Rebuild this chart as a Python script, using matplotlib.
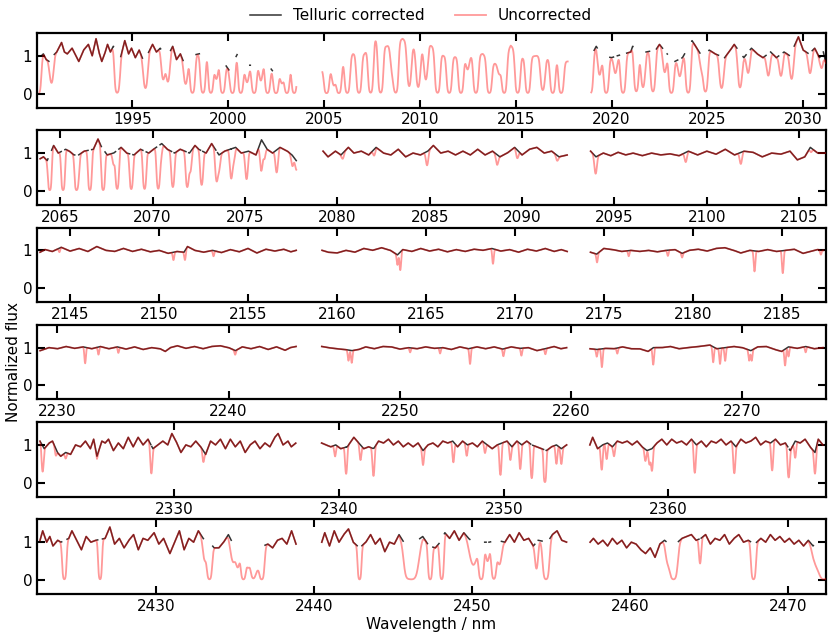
import matplotlib
matplotlib.use("Agg")
import matplotlib.pyplot as plt
import numpy as np
from matplotlib.ticker import MultipleLocator

# ---- panel 1 -------------------------------------------------------------
P1_XLIM = (1990.02, 2031.19)
P1_SEG = [(1990.15, 2003.56), (2004.91, 2017.72), (2018.94, 2031.19)]
P1_STAR = [
    (1990.15, 0.95), (1990.35, 1.05), (1990.5, 0.9), (1990.65, 0.85), (1990.85, 1.0), (1991.05, 1.1),
    (1991.3, 1.35), (1991.45, 1.1), (1991.6, 1.05), (1991.85, 1.2), (1992.05, 1.0), (1992.2, 0.85),
    (1992.45, 1.15), (1992.7, 1.3), (1992.9, 1.0), (1993.1, 1.45), (1993.25, 1.1), (1993.4, 0.85),
    (1993.55, 1.05), (1993.7, 1.3), (1993.85, 1.1), (1994.0, 1.25), (1994.2, 1.2), (1994.35, 0.9),
    (1994.6, 1.4), (1994.8, 1.05), (1994.95, 1.2), (1995.15, 0.95), (1995.35, 1.15), (1995.55, 0.9),
    (1995.8, 1.05), (1996.05, 1.3), (1996.25, 1.1), (1996.45, 1.2), (1996.7, 1.0), (1996.95, 1.1),
    (1997.1, 1.25), (1997.3, 0.9), (1997.5, 1.05), (1997.7, 0.8), (1998.0, 1.0), (1998.48, 1.05),
    (1998.82, 1.15), (1999.26, 0.95), (1999.52, 1.0), (2000.04, 0.62), (2000.48, 1.05), (2000.86, 0.75),
    (2001.18, 0.75), (2001.87, 0.9), (2002.31, 0.6), (2002.66, 0.65), (2003.27, 0.8), (2003.56, 0.8),
    (2004.91, 0.62), (2005.35, 0.65), (2005.63, 0.6), (2006.0, 0.85), (2006.5, 1.05), (2007.1, 1.05),
    (2007.66, 1.45), (2008.24, 1.25), (2009.1, 1.45), (2009.75, 1.2), (2010.0, 1.15), (2010.5, 1.3),
    (2011.23, 1.0), (2011.84, 0.97), (2012.3, 0.95), (2012.6, 1.0), (2013.28, 1.05), (2013.84, 0.8),
    (2014.2, 0.8), (2014.74, 1.27), (2015.37, 0.95), (2016.1, 1.0), (2016.62, 0.92), (2017.14, 0.9),
    (2017.58, 0.85), (2017.72, 0.85),
    (2018.94, 1.0), (2019.2, 1.25), (2019.5, 1.0), (2020.0, 0.95), (2020.3, 1.0), (2021.0, 1.1),
    (2021.1, 1.25), (2021.8, 1.1), (2022.3, 1.15), (2022.5, 1.3), (2022.9, 1.05), (2023.3, 0.85),
    (2023.7, 0.95), (2024.2, 1.4), (2024.45, 1.2), (2024.7, 1.0), (2025.1, 1.15), (2025.4, 1.05),
    (2025.9, 0.95), (2026.2, 1.15), (2026.4, 1.3), (2026.9, 0.95), (2027.3, 1.2), (2027.6, 1.05),
    (2027.9, 0.95), (2028.3, 1.1), (2028.6, 0.95), (2029.0, 1.1), (2029.3, 1.0), (2029.75, 1.5),
    (2030.0, 1.15), (2030.3, 1.05), (2030.6, 1.2), (2030.85, 0.95), (2031.05, 1.1), (2031.19, 0.8),
]
P1_TEL = [
    (1990.1, 1.0), (1990.78, 0.7), (1994.2, 1.0), (1995.68, 0.85), (1996.6, 0.65), (1996.85, 0.7),
    (1997.78, 0.7), (1998.13, 1.0), (1998.68, 1.0), (1999.09, 1.0), (1999.38, 0.6), (1999.70, 1.0),
    (2000.22, 1.0), (2000.65, 1.0), (2000.98, 0.6), (2001.35, 1.0), (2001.7, 0.6), (2002.05, 1.0),
    (2002.49, 1.0), (2002.8, 0.6), (2003.06, 1.0), (2003.44, 1.0),
    (2005.13, 1.0), (2005.51, 0.65), (2005.77, 1.0), (2006.21, 1.0), (2006.82, 1.0), (2007.43, 1.0),
    (2007.95, 1.0), (2008.56, 0.55), (2008.74, 1.0), (2009.44, 0.85), (2009.91, 0.85), (2010.31, 0.7),
    (2010.92, 1.0), (2011.53, 1.0), (2012.14, 1.0), (2012.49, 0.35), (2012.92, 1.0), (2013.62, 1.0),
    (2014.14, 0.35), (2014.4, 1.0), (2015.1, 1.0), (2015.63, 1.0), (2016.41, 0.9), (2016.93, 1.0),
    (2017.37, 1.0),
    (2018.9, 1.0), (2019.37, 0.55), (2019.72, 1.0), (2020.2, 0.45), (2020.6, 1.0), (2021.29, 0.95),
    (2021.64, 0.85), (2022.16, 0.95), (2022.77, 0.5), (2023.12, 1.0), (2023.56, 0.5), (2024.0, 1.0),
    (2024.69, 0.35), (2024.9, 0.95), (2025.74, 0.85), (2026.7, 0.85), (2027.13, 0.5), (2028.18, 0.55),
    (2028.84, 0.55), (2029.4, 0.65), (2030.36, 0.5), (2030.97, 0.35),
]

# ---- panel 2 -------------------------------------------------------------
P2_XLIM = (2063.75, 2106.45)
P2_SEG = [(2063.92, 2077.78), (2079.23, 2092.45), (2093.71, 2106.45)]
P2_STAR = [
    (2063.92, 0.85), (2064.1, 0.9), (2064.3, 0.8), (2064.65, 1.2), (2064.9, 1.0), (2065.3, 1.1),
    (2065.5, 1.05), (2065.75, 0.95), (2066.0, 0.95), (2066.3, 1.05), (2066.8, 1.1), (2067.05, 1.37),
    (2067.25, 1.15), (2067.55, 0.95), (2067.9, 1.0), (2068.3, 1.15), (2068.6, 1.0), (2069.0, 0.95),
    (2069.35, 1.1), (2069.8, 1.0), (2070.05, 1.1), (2070.5, 1.25), (2070.8, 1.1), (2071.2, 1.0),
    (2071.5, 1.1), (2072.0, 1.0), (2072.3, 1.2), (2072.5, 1.1), (2072.9, 1.0), (2073.2, 1.25),
    (2073.6, 0.95), (2073.9, 1.05), (2074.5, 1.15), (2074.8, 1.0), (2075.2, 1.05), (2075.6, 0.95),
    (2075.9, 1.35), (2076.2, 1.1), (2076.5, 1.0), (2076.9, 1.15), (2077.3, 1.05), (2077.55, 0.95),
    (2077.78, 0.8),
    (2079.23, 1.05), (2079.5, 0.9), (2079.9, 1.05), (2080.2, 0.95), (2080.6, 1.15), (2080.9, 1.0),
    (2081.3, 1.05), (2081.7, 0.95), (2082.1, 1.15), (2082.5, 1.0), (2082.9, 0.95), (2083.3, 1.1),
    (2083.7, 0.9), (2084.1, 1.0), (2084.5, 0.95), (2084.9, 1.05), (2085.2, 1.2), (2085.6, 1.0),
    (2086.0, 1.05), (2086.4, 0.95), (2086.8, 1.05), (2087.2, 0.95), (2087.6, 1.1), (2088.0, 0.95),
    (2088.4, 1.05), (2088.8, 0.9), (2089.2, 1.0), (2089.6, 1.15), (2090.0, 0.95), (2090.4, 1.1),
    (2090.8, 1.15), (2091.2, 1.0), (2091.6, 1.05), (2092.0, 0.9), (2092.45, 0.95),
    (2093.71, 1.05), (2094.0, 0.9), (2094.4, 1.0), (2094.8, 0.93), (2095.2, 1.02), (2095.6, 0.95),
    (2096.0, 1.0), (2096.5, 0.93), (2097.0, 1.0), (2097.5, 0.95), (2098.0, 0.98), (2098.5, 0.93),
    (2099.0, 1.05), (2099.5, 0.95), (2100.0, 1.05), (2100.5, 0.97), (2101.0, 1.1), (2101.5, 0.95),
    (2102.0, 1.05), (2102.5, 1.02), (2103.0, 0.9), (2103.5, 1.0), (2104.0, 0.97), (2104.5, 1.05),
    (2104.9, 0.82), (2105.3, 0.9), (2105.6, 1.15), (2106.0, 1.0), (2106.45, 1.0),
]
P2_TEL = [
    (2064.44, 1.0), (2065.16, 1.0), (2065.88, 0.97), (2065.97, 0.6), (2066.61, 1.0), (2067.33, 1.0),
    (2067.9, 0.3), (2068.09, 0.95), (2068.85, 0.95), (2069.57, 0.95), (2070.31, 0.95), (2070.45, 0.3),
    (2071.1, 0.9), (2071.88, 0.9), (2072.05, 0.5), (2072.66, 0.85), (2073.47, 0.75), (2073.6, 0.4),
    (2074.26, 0.7), (2074.4, 0.3), (2075.09, 0.7), (2075.89, 0.6), (2076.05, 0.3), (2076.72, 0.55),
    (2077.57, 0.3), (2077.78, 0.3),
    (2080.3, 0.15), (2082.0, 0.15), (2084.86, 0.35), (2088.65, 0.28), (2089.74, 0.2), (2091.9, 0.15),
    (2093.98, 0.5), (2098.86, 0.25), (2101.84, 0.3), (2105.63, 0.1),
]

# ---- panel 3 -------------------------------------------------------------
P3_XLIM = (2143.14, 2187.49)
P3_SEG = [(2143.31, 2157.71), (2159.16, 2172.94), (2174.25, 2187.35)]
P3_STAR = [
    (2143.31, 0.95), (2143.6, 1.02), (2144.0, 0.97), (2144.5, 1.08), (2145.0, 0.98), (2145.5, 1.05),
    (2146.0, 0.97), (2146.5, 1.1), (2147.0, 1.0), (2147.5, 0.97), (2148.0, 1.05), (2148.5, 0.97),
    (2149.0, 1.03), (2149.5, 0.96), (2150.0, 1.0), (2150.5, 0.92), (2151.0, 0.97), (2151.4, 0.95),
    (2151.6, 1.1), (2152.0, 1.0), (2152.5, 0.95), (2153.0, 1.0), (2153.5, 0.94), (2154.0, 1.02),
    (2154.5, 0.96), (2155.0, 1.05), (2155.5, 0.93), (2156.0, 1.03), (2156.5, 0.98), (2157.0, 1.03),
    (2157.4, 0.96), (2157.71, 1.0),
    (2159.16, 1.0), (2159.5, 0.95), (2160.0, 0.93), (2160.5, 1.0), (2161.0, 0.95), (2161.5, 1.05),
    (2162.0, 1.0), (2162.5, 1.07), (2163.0, 1.0), (2163.4, 0.88), (2163.7, 1.02), (2164.2, 0.97),
    (2164.7, 1.05), (2165.2, 0.98), (2165.7, 1.03), (2166.2, 0.96), (2166.7, 1.02), (2167.2, 0.97),
    (2167.7, 1.03), (2168.2, 1.0), (2168.7, 1.05), (2169.2, 0.98), (2169.7, 1.02), (2170.2, 0.95),
    (2170.7, 1.03), (2171.2, 0.98), (2171.7, 1.05), (2172.2, 0.97), (2172.6, 1.02), (2172.94, 0.97),
    (2174.25, 0.95), (2174.6, 0.9), (2175.0, 1.05), (2175.5, 1.02), (2176.0, 0.97), (2176.5, 1.0),
    (2177.0, 0.97), (2177.5, 1.0), (2178.0, 0.96), (2178.5, 1.0), (2179.0, 1.02), (2179.4, 0.92),
    (2179.8, 1.0), (2180.3, 1.03), (2180.8, 0.98), (2181.3, 1.05), (2181.8, 1.07), (2182.3, 1.0),
    (2182.7, 0.93), (2183.2, 1.0), (2183.7, 0.97), (2184.2, 1.02), (2184.7, 0.97), (2185.2, 1.0),
    (2185.7, 1.03), (2186.2, 0.92), (2186.6, 0.97), (2187.0, 1.02), (2187.35, 1.0),
]
P3_TEL = [
    (2144.4, 0.1), (2150.81, 0.22), (2151.46, 0.25), (2153.06, 0.15), (2163.4, 0.3), (2163.56, 0.5),
    (2168.77, 0.38), (2174.62, 0.25), (2176.4, 0.15), (2178.6, 0.15), (2179.4, 0.12), (2183.47, 0.55),
    (2185.06, 0.6), (2187.2, 0.12),
]

# ---- panel 4 -------------------------------------------------------------
P4_XLIM = (2228.81, 2274.89)
P4_SEG = [(2228.99, 2243.94), (2245.44, 2259.75), (2261.11, 2274.72)]
P4_STAR = [
    (2229.0, 0.92), (2229.5, 1.0), (2230.0, 0.97), (2230.5, 1.03), (2231.0, 0.98), (2231.5, 1.02),
    (2232.0, 0.97), (2232.5, 1.03), (2233.0, 0.97), (2233.5, 1.02), (2234.0, 0.96), (2234.5, 1.02),
    (2235.0, 0.95), (2235.5, 1.0), (2236.0, 0.97), (2236.3, 0.9), (2236.6, 1.0), (2237.0, 1.05),
    (2237.5, 0.98), (2238.0, 1.03), (2238.5, 0.97), (2239.0, 1.03), (2239.5, 1.05), (2240.0, 1.0),
    (2240.4, 0.92), (2240.8, 1.02), (2241.3, 0.97), (2241.8, 1.03), (2242.3, 0.95), (2242.8, 1.02),
    (2243.3, 0.93), (2243.6, 1.0), (2243.94, 1.03),
    (2245.44, 1.03), (2245.8, 1.0), (2246.3, 0.97), (2246.8, 0.95), (2247.2, 0.92), (2247.6, 0.95),
    (2248.0, 1.02), (2248.5, 0.97), (2249.0, 1.03), (2249.5, 1.02), (2250.0, 0.96), (2250.5, 1.0),
    (2251.0, 0.97), (2251.5, 1.02), (2252.0, 0.98), (2252.5, 1.0), (2253.0, 0.95), (2253.5, 1.02),
    (2254.0, 0.97), (2254.5, 1.02), (2255.0, 0.97), (2255.5, 1.02), (2256.0, 0.96), (2256.5, 1.02),
    (2257.0, 0.98), (2257.5, 1.0), (2258.0, 0.92), (2258.5, 0.97), (2259.0, 1.03), (2259.4, 0.97),
    (2259.75, 1.0),
    (2261.11, 0.97), (2261.5, 0.95), (2262.0, 0.98), (2262.5, 0.97), (2263.0, 1.02), (2263.5, 0.97),
    (2264.0, 0.97), (2264.5, 0.9), (2264.8, 1.0), (2265.3, 1.0), (2265.8, 1.03), (2266.3, 0.97),
    (2266.8, 1.0), (2267.3, 1.02), (2267.8, 1.05), (2268.1, 1.07), (2268.5, 0.97), (2269.0, 1.0),
    (2269.5, 1.03), (2270.0, 1.0), (2270.5, 0.92), (2270.9, 1.02), (2271.4, 1.03), (2271.9, 0.95),
    (2272.3, 0.9), (2272.7, 1.02), (2273.2, 0.98), (2273.7, 1.03), (2274.2, 0.97), (2274.72, 1.0),
]
P4_TEL = [
    (2231.62, 0.42), (2232.4, 0.2), (2233.56, 0.15), (2240.38, 0.12), (2247.0, 0.3), (2247.19, 0.35),
    (2250.6, 0.12), (2252.35, 0.15), (2254.1, 0.42), (2256.05, 0.2), (2257.1, 0.2), (2258.5, 0.15),
    (2261.5, 0.2), (2261.8, 0.5), (2262.7, 0.15), (2264.8, 0.45), (2268.3, 0.4), (2268.7, 0.42),
    (2269.0, 0.35), (2270.4, 0.3), (2270.55, 0.3), (2272.5, 0.45), (2272.7, 0.25), (2273.7, 0.15),
]

# ---- panel 5 -------------------------------------------------------------
P5_XLIM = (2321.66, 2369.57)
P5_SEG = [(2321.84, 2337.38), (2338.94, 2353.82), (2355.23, 2369.38)]
P5_STAR = [
    (2321.84, 1.1), (2322.1, 0.9), (2322.4, 1.05), (2322.6, 1.1), (2322.9, 0.8), (2323.1, 0.7),
    (2323.4, 0.8), (2323.7, 0.75), (2324.0, 1.0), (2324.3, 0.95), (2324.6, 1.1), (2324.9, 0.9),
    (2325.1, 1.15), (2325.3, 0.7), (2325.6, 1.1), (2325.8, 1.05), (2326.0, 1.15), (2326.3, 0.85),
    (2326.6, 1.05), (2326.9, 0.9), (2327.2, 1.2), (2327.5, 0.95), (2327.8, 1.2), (2328.1, 1.0),
    (2328.4, 1.15), (2328.7, 0.9), (2329.0, 1.0), (2329.3, 1.1), (2329.6, 1.0), (2329.85, 1.3),
    (2330.1, 1.1), (2330.4, 0.8), (2330.7, 1.0), (2331.0, 0.95), (2331.3, 1.1), (2331.6, 0.95),
    (2331.9, 0.75), (2332.2, 1.1), (2332.5, 1.0), (2332.8, 1.15), (2333.1, 0.9), (2333.4, 1.15),
    (2333.7, 0.95), (2334.0, 1.1), (2334.3, 0.8), (2334.6, 1.0), (2334.9, 1.1), (2335.2, 0.9),
    (2335.5, 1.05), (2335.8, 0.95), (2336.1, 1.2), (2336.3, 1.3), (2336.6, 1.0), (2336.9, 1.1),
    (2337.1, 0.95), (2337.38, 1.05),
    (2338.94, 1.05), (2339.2, 1.0), (2339.5, 0.95), (2339.8, 1.0), (2340.1, 0.9), (2340.5, 0.95),
    (2340.9, 1.2), (2341.2, 1.05), (2341.5, 0.9), (2341.8, 0.95), (2342.1, 0.9), (2342.4, 1.1),
    (2342.7, 1.05), (2343.0, 1.15), (2343.3, 1.0), (2343.6, 1.1), (2343.9, 0.95), (2344.2, 1.05),
    (2344.5, 0.95), (2344.8, 1.05), (2345.1, 0.85), (2345.4, 1.0), (2345.7, 1.05), (2346.0, 0.95),
    (2346.3, 1.1), (2346.6, 1.05), (2346.9, 1.1), (2347.2, 0.95), (2347.5, 1.1), (2347.8, 1.0),
    (2348.1, 1.05), (2348.4, 0.95), (2348.7, 1.1), (2349.0, 1.0), (2349.3, 0.9), (2349.6, 1.0),
    (2349.9, 1.05), (2350.2, 1.1), (2350.5, 0.95), (2350.8, 1.1), (2351.1, 1.0), (2351.4, 1.1),
    (2351.7, 1.0), (2352.0, 0.95), (2352.3, 0.9), (2352.6, 0.85), (2352.9, 0.95), (2353.2, 1.0),
    (2353.5, 0.9), (2353.82, 1.0),
    (2355.23, 1.0), (2355.4, 1.2), (2355.7, 0.9), (2356.0, 1.0), (2356.3, 1.05), (2356.6, 0.95),
    (2356.9, 1.1), (2357.2, 1.05), (2357.5, 1.1), (2357.8, 1.0), (2358.1, 1.1), (2358.4, 0.95),
    (2358.7, 0.85), (2359.0, 0.9), (2359.3, 1.05), (2359.6, 1.15), (2359.9, 1.0), (2360.2, 1.15),
    (2360.5, 1.05), (2360.8, 1.1), (2361.1, 1.0), (2361.4, 1.15), (2361.7, 1.0), (2362.0, 1.1),
    (2362.3, 0.95), (2362.6, 1.1), (2362.9, 1.05), (2363.2, 1.15), (2363.5, 1.0), (2363.8, 1.1),
    (2364.1, 0.95), (2364.4, 1.15), (2364.7, 1.05), (2365.0, 1.1), (2365.3, 1.2), (2365.6, 1.0),
    (2365.9, 1.1), (2366.2, 1.05), (2366.5, 1.15), (2366.8, 1.0), (2367.1, 1.05), (2367.4, 0.85),
    (2367.7, 1.1), (2368.0, 1.05), (2368.3, 1.15), (2368.6, 0.95), (2368.9, 0.8), (2369.1, 1.15),
    (2369.38, 1.0),
]
P5_TEL = [
    (2322.0, 0.7), (2322.8, 0.2), (2323.4, 0.2), (2325.3, 0.1), (2328.6, 0.75), (2331.76, 0.35),
    (2339.76, 0.3), (2340.43, 0.75), (2341.3, 0.4), (2342.09, 0.8), (2345.1, 0.45), (2346.94, 0.5),
    (2347.75, 0.3), (2348.86, 0.25), (2349.8, 0.8), (2350.4, 0.4), (2351.0, 0.65), (2351.7, 0.88),
    (2352.5, 1.0), (2353.2, 0.5), (2353.5, 0.45), (2355.95, 0.65), (2356.25, 0.4), (2356.7, 0.3),
    (2358.6, 0.35), (2358.85, 0.45), (2359.0, 0.65), (2361.6, 0.75), (2364.0, 0.75), (2366.3, 0.7),
    (2367.3, 0.85), (2367.7, 0.4), (2368.9, 0.7),
]

# ---- panel 6 -------------------------------------------------------------
P6_XLIM = (2422.49, 2472.42)
P6_SEG = [(2422.68, 2438.88), (2440.51, 2456.01), (2457.49, 2472.42)]
P6_STAR = [
    (2422.68, 1.05), (2422.85, 1.3), (2423.1, 1.0), (2423.3, 1.15), (2423.5, 0.9), (2423.8, 1.05),
    (2424.0, 1.0), (2424.5, 1.1), (2424.7, 1.3), (2425.0, 1.05), (2425.3, 0.8), (2425.6, 1.15),
    (2425.9, 1.0), (2426.2, 1.05), (2426.8, 1.1), (2427.1, 1.4), (2427.4, 0.95), (2427.7, 1.1),
    (2428.0, 0.85), (2428.3, 1.05), (2428.6, 1.2), (2428.9, 0.8), (2429.2, 1.1), (2429.5, 1.05),
    (2429.9, 1.25), (2430.2, 0.95), (2430.5, 1.1), (2430.9, 0.7), (2431.2, 1.0), (2431.5, 1.3),
    (2431.8, 0.8), (2432.1, 1.1), (2432.4, 1.0), (2432.7, 1.3), (2433.0, 1.1), (2433.4, 1.0),
    (2433.7, 0.85), (2434.0, 0.85), (2434.3, 1.0), (2434.6, 1.2), (2434.9, 0.95), (2435.5, 0.9),
    (2436.2, 0.9), (2436.8, 0.9), (2437.1, 0.95), (2437.4, 0.85), (2437.7, 1.05), (2438.0, 1.1),
    (2438.3, 0.95), (2438.6, 1.3), (2438.88, 0.95),
    (2440.51, 1.0), (2440.7, 1.25), (2441.0, 0.9), (2441.3, 1.3), (2441.6, 1.0), (2441.9, 1.2),
    (2442.2, 1.35), (2442.5, 1.0), (2442.9, 0.85), (2443.3, 1.0), (2443.6, 1.2), (2443.9, 0.95),
    (2444.2, 1.1), (2444.5, 0.75), (2444.8, 1.0), (2445.1, 0.95), (2445.4, 1.2), (2445.7, 1.0),
    (2446.0, 0.9), (2446.4, 1.0), (2446.9, 1.15), (2447.3, 0.9), (2447.7, 0.85), (2448.0, 1.0),
    (2448.3, 1.25), (2448.6, 1.1), (2448.9, 1.3), (2449.2, 1.05), (2449.5, 1.25), (2449.8, 1.1),
    (2450.1, 1.0), (2450.6, 1.0), (2451.1, 1.0), (2451.6, 1.05), (2452.1, 1.0), (2452.4, 1.2),
    (2452.7, 1.0), (2453.0, 1.25), (2453.3, 1.05), (2453.6, 1.1), (2453.9, 0.9), (2454.2, 1.05),
    (2454.8, 1.0), (2455.1, 1.2), (2455.4, 1.3), (2455.7, 1.05), (2456.01, 1.0),
    (2457.49, 1.0), (2457.7, 1.1), (2458.0, 0.95), (2458.3, 1.05), (2458.6, 0.9), (2458.9, 1.1),
    (2459.2, 0.95), (2459.5, 1.05), (2459.8, 0.85), (2460.1, 1.0), (2460.4, 0.95), (2460.7, 0.8),
    (2461.0, 0.7), (2461.3, 0.85), (2461.6, 0.6), (2461.9, 0.95), (2462.2, 1.05), (2462.5, 0.95),
    (2462.9, 0.95), (2463.3, 1.1), (2463.6, 1.15), (2463.9, 1.2), (2464.2, 1.05), (2464.5, 1.1),
    (2464.8, 1.2), (2465.1, 0.95), (2465.4, 1.1), (2465.7, 1.05), (2466.0, 1.2), (2466.3, 0.95),
    (2466.6, 1.1), (2466.9, 1.2), (2467.2, 1.0), (2467.5, 1.05), (2467.9, 0.95), (2468.3, 1.1),
    (2468.6, 1.0), (2468.9, 1.2), (2469.2, 1.05), (2469.5, 1.15), (2469.8, 1.0), (2470.1, 1.1),
    (2470.4, 0.95), (2470.7, 1.05), (2471.0, 0.9), (2471.3, 1.05), (2471.6, 0.9), (2471.9, 1.05),
    (2472.42, 1.0),
]
# (centre, depth, width in nm)
P6_TEL = [
    (2424.22, 1.0, 0.08), (2426.48, 1.0, 0.07), (2433.1, 0.5, 0.1), (2433.4, 1.0, 0.1),
    (2434.9, 0.5, 0.15), (2435.2, 0.6, 0.1), (2435.55, 1.0, 0.1), (2435.85, 0.6, 0.1),
    (2436.18, 0.95, 0.12), (2436.45, 0.6, 0.1), (2436.71, 1.0, 0.1),
    (2442.9, 1.0, 0.07), (2445.9, 0.6, 0.12), (2446.2, 1.0, 0.25), (2447.37, 1.0, 0.08),
    (2448.1, 1.0, 0.08), (2450.1, 0.6, 0.2), (2450.6, 1.0, 0.1), (2451.0, 0.5, 0.1),
    (2451.4, 0.97, 0.1), (2451.75, 0.6, 0.12), (2454.1, 0.7, 0.08), (2454.7, 1.0, 0.12),
    (2462.4, 0.5, 0.12), (2462.77, 1.0, 0.15), (2464.45, 0.6, 0.06), (2467.83, 1.0, 0.09),
    (2471.85, 0.6, 0.2), (2472.3, 1.0, 0.2),
]

PANELS = [
    (P1_XLIM, P1_SEG, P1_STAR, P1_TEL, 0.08, 0.75, 5),
    (P2_XLIM, P2_SEG, P2_STAR, P2_TEL, 0.06, 0.3, 5),
    (P3_XLIM, P3_SEG, P3_STAR, P3_TEL, 0.04, 0.3, 5),
    (P4_XLIM, P4_SEG, P4_STAR, P4_TEL, 0.04, 0.3, 10),
    (P5_XLIM, P5_SEG, P5_STAR, P5_TEL, 0.05, 0.3, 10),
    (P6_XLIM, P6_SEG, P6_STAR, P6_TEL, 0.08, 0.6, 10),
]
# detector chip of panel 1 that has no telluric model at all
NO_CORR = [(2004.5, 2018.0)]


def transmission(wl, lines, width):
    tau = np.zeros_like(wl)
    for ln in lines:
        c, d = ln[0], ln[1]
        w = ln[2] if len(ln) > 2 else width
        tau += -np.log(max(1 - d, 0.02)) * np.exp(-0.5 * ((wl - c) / w) ** 2)
    return np.exp(-tau)


plt.rcParams['font.size'] = 11
fig, axes = plt.subplots(6, 1, figsize=(8.3, 6.36), dpi=100)
fig.subplots_adjust(left=0.0446, right=0.9952, top=0.948, bottom=0.066, hspace=0.305)

for k, (ax, (xlim, segs, star, tel, width, thr, step)) in enumerate(zip(axes, PANELS)):
    s_wl = np.array([p[0] for p in star])
    s_fl = np.array([p[1] for p in star])
    for a, b in segs:
        wl = np.arange(a, b, 0.01)
        stellar = np.interp(wl, s_wl, s_fl)
        trans = transmission(wl, tel, width)
        uncorr = stellar * trans
        corr = np.where(trans > thr, stellar, np.nan)
        if k == 0:
            for lo, hi in NO_CORR:
                corr[(wl > lo) & (wl < hi)] = np.nan
        ax.plot(wl, corr, color='black', alpha=0.8, lw=1.1, zorder=2,
                label='Telluric corrected')
        ax.plot(wl, uncorr, color='red', alpha=0.4, lw=1.3, zorder=3,
                label='Uncorrected')
    ax.set_xlim(xlim)
    ax.set_ylim(-0.37, 1.6)
    ax.set_yticks([0, 1])
    ax.xaxis.set_major_locator(MultipleLocator(step))
    ax.tick_params(direction='in', top=True, right=True, length=6, width=1.5, labelsize=11)
    for sp in ax.spines.values():
        sp.set_linewidth(1.6)

axes[3].set_ylabel('Normalized flux', labelpad=1)
axes[5].set_xlabel('Wavelength / nm', labelpad=2)

handles, labels = axes[0].get_legend_handles_labels()
fig.legend(handles[:2], labels[:2], loc='center', bbox_to_anchor=(421 / 830, 1 - 16 / 636),
           ncol=2, frameon=False, fontsize=11)

plt.savefig('out.png', dpi=100)
